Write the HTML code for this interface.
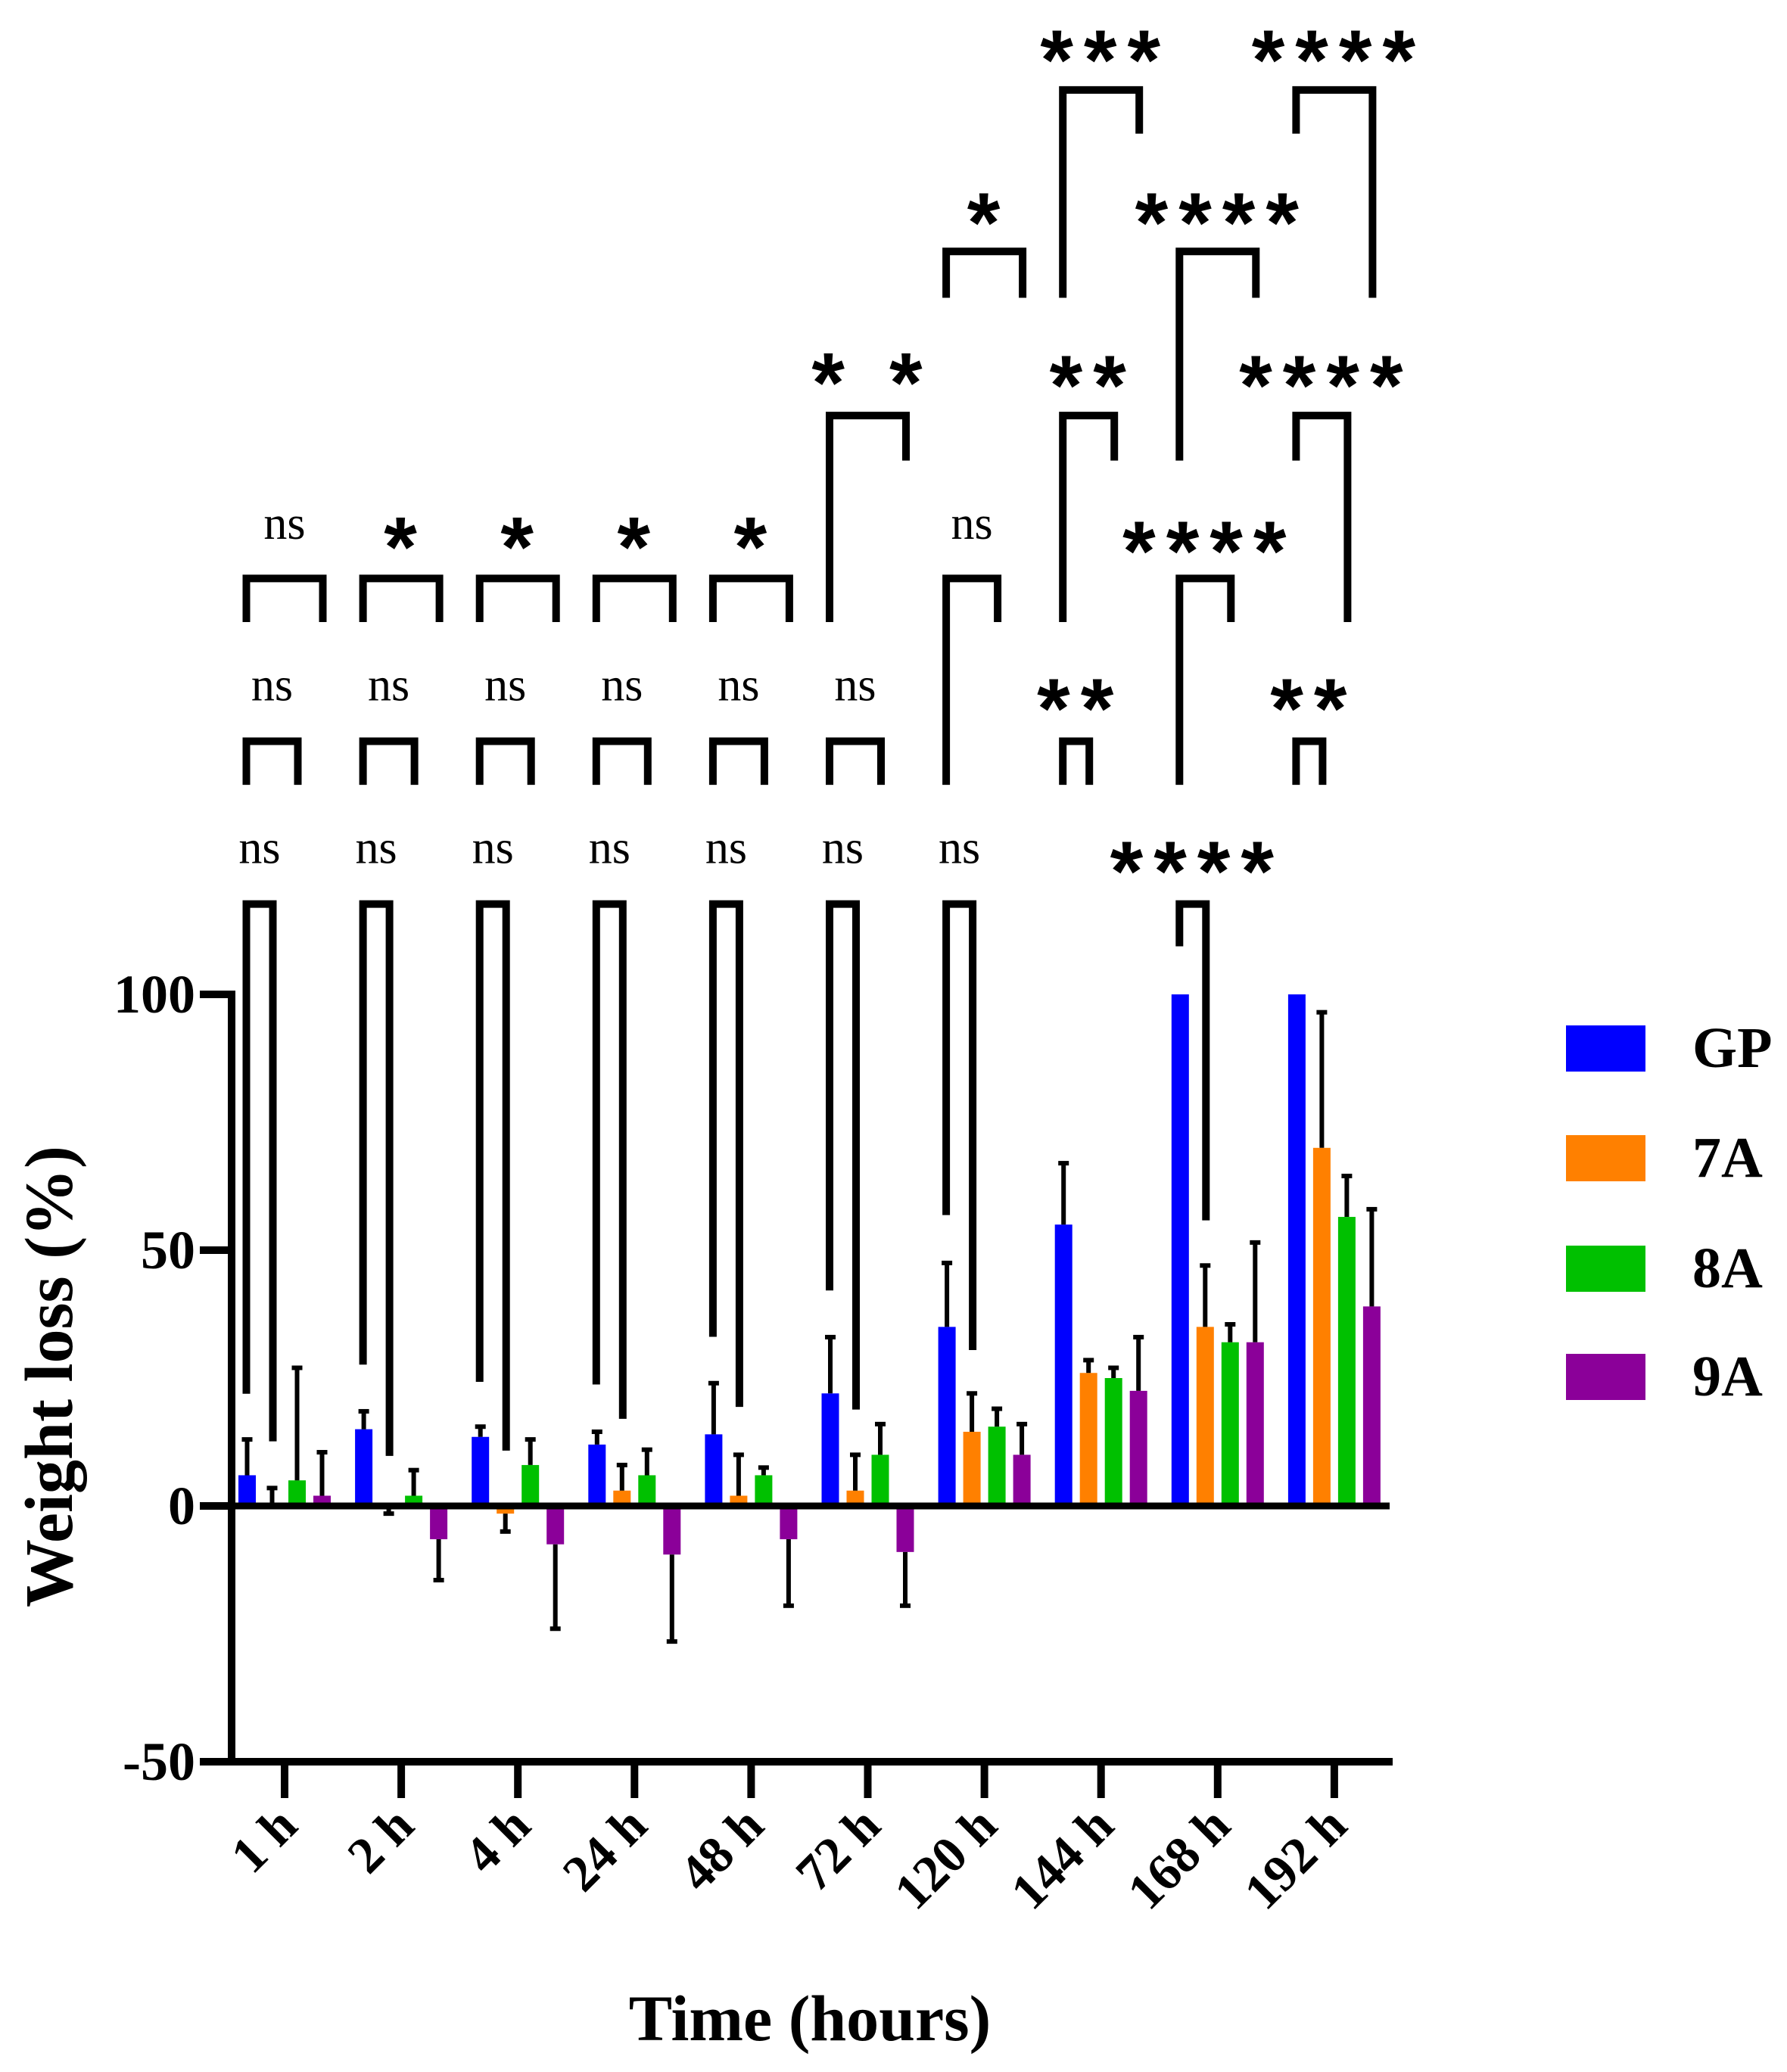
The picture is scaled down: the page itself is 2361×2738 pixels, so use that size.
<!DOCTYPE html>
<html><head><meta charset="utf-8"><style>
html,body{margin:0;padding:0;background:#fff;}
svg{display:block;}
text{font-family:"Liberation Serif",serif;}
</style></head><body>
<svg id="chart" width="2361" height="2738" viewBox="0 0 2361 2738" xmlns="http://www.w3.org/2000/svg"></svg>
<script>
const categories = ["1 h","2 h","4 h","24 h","48 h","72 h","120 h","144 h","168 h","192 h"];
const seriesNames = ["GP","7A","8A","9A"];
const gpValues = [6,15,13.5,12,14,22,35,55,100,100];
const a7Values = [0,-0.5,-1.5,3,2,3,14.5,26,35,70];
const a8Values = [5,2,8,6,6,10,15.5,25,32,56.5];
const a9Values = [2,-6.5,-7.5,-9.5,-6.5,-9,10,22.5,32,39];
const gpErr = [7,3.5,2,2.5,10,11,12.5,12,0,0];
const a7Err = [3.5,1,3.5,5,8,7,7.5,2.5,12,26.5];
const a8Err = [22,5,5,5,1.5,6,3.5,2,3.5,8];
const a9Err = [8.5,8,16.5,17,13,10.5,6,10.5,19.5,19];
const yTicks = [-50,0,50,100];
const yTickLabels = ["-50","0","50","100"];

const colors = ["#0000FF","#FF8000","#00C000","#8B0099"];
const values = [gpValues,a7Values,a8Values,a9Values];
const errs = [gpErr,a7Err,a8Err,a9Err];
const NS = "http://www.w3.org/2000/svg";
const svg = document.getElementById("chart");
const y0px = 1990, perUnit = 338/50;
function yScale(v){ return y0px - v*perUnit; }
function xTick(i){ return 376 + i*154.1; }
const offs = [-49.5,-16.5,16.5,49.5];
function xBar(i,s){ return xTick(i)+offs[s]; }
const S = 1.749;
function mk(tag, attrs){ const e=document.createElementNS(NS,tag); for(const k in attrs) e.setAttribute(k,attrs[k]); svg.appendChild(e); return e; }

for(let s=0;s<4;s++){
  for(let i=0;i<categories.length;i++){
    const v=values[s][i], cx=xBar(i,s);
    const yt=Math.min(yScale(v),y0px), h=Math.abs(yScale(v)-y0px);
    const r=mk("rect",{x:cx-11.5,y:yt,width:23,height:Math.max(h,0.01),fill:colors[s]});
    
    
    const e=errs[s][i];
    if(e>0){
      const dir = v>=0?1:-1;
      const ye=yScale(v+dir*e);
      const l=mk("line",{x1:cx,x2:cx,y1:yScale(v),y2:ye,stroke:"#000","stroke-width":6});
      
      
      const c=mk("line",{x1:cx-7,x2:cx+7,y1:ye,y2:ye,stroke:"#000","stroke-width":6});
      
      
    }
  }
}
const ax=mk("line",{x1:306,x2:306,y1:yScale(100)-5,y2:yScale(-50)+5,stroke:"#000","stroke-width":10});
 
const z=mk("line",{x1:306,x2:1836,y1:y0px,y2:y0px,stroke:"#000","stroke-width":9});
 
const bx=mk("line",{x1:301,x2:1840,y1:yScale(-50),y2:yScale(-50),stroke:"#000","stroke-width":10});
 
for(let k=0;k<yTicks.length;k++){
  const y=yScale(yTicks[k]);
  const t=mk("line",{x1:264,x2:306,y1:y,y2:y,stroke:"#000","stroke-width":10});
   
  const tx=mk("text",{x:258,y:y+24,"text-anchor":"end","font-size":72,"font-weight":"bold"});
  tx.textContent=yTickLabels[k];
   
}
for(let i=0;i<categories.length;i++){
  const x=xTick(i);
  const t=mk("line",{x1:x,x2:x,y1:yScale(-50),y2:yScale(-50)+48,stroke:"#000","stroke-width":10});
   
  const tx=mk("text",{x:x+20,y:yScale(-50)+88,"text-anchor":"end","font-size":68,"font-weight":"bold",transform:`rotate(-45 ${x+20} ${yScale(-50)+88})`});
  tx.textContent=categories[i];
   
}
const yt=mk("text",{x:0,y:0,"text-anchor":"middle","font-size":90,"font-weight":"bold",transform:"translate(95 1819) rotate(-90)"});
yt.textContent="Weight loss (%)";  
const xt=mk("text",{x:1070,y:2696,"text-anchor":"middle","font-size":86,"font-weight":"bold"});
xt.textContent="Time (hours)";  

const legY=[1355,1500,1646,1789];
for(let s=0;s<4;s++){
  const r=mk("rect",{x:2069,y:legY[s],width:105,height:61,fill:colors[s]});
   
  const t=mk("text",{x:2236,y:legY[s]+55,"font-size":76,"font-weight":"bold"});
  t.textContent=seriesNames[s];
   
}

const brackets = [
 [0,0,1,683,1053,1089,"ns",643],[1,0,1,683,1031,1100,"ns",643],[2,0,1,683,1044,1096,"ns",643],
 [3,0,1,683,1046,1072,"ns",643],[4,0,1,683,1010,1063,"ns",643],[5,0,1,683,975,1065,"ns",643],
 [6,0,1,683,918,1020,"ns",643],[8,0,1,683,715,922,"****",645],
 [0,0,2,560,593,593,"ns",520],[1,0,2,560,593,593,"ns",520],[2,0,2,560,593,593,"ns",520],
 [3,0,2,560,593,593,"ns",520],[4,0,2,560,593,593,"ns",520],[5,0,2,560,593,593,"ns",520],
 [7,0,1,560,593,593,"**",522],[9,0,1,560,593,593,"**",522],
 [0,0,3,437,470,470,"ns",398],[1,0,3,437,470,470,"*",400],[2,0,3,437,470,470,"*",400],
 [3,0,3,437,470,470,"*",400],[4,0,3,437,470,470,"*",400],
 [6,0,2,437,593,470,"ns",398],[8,0,2,437,593,470,"****",403],
 [5,0,3,314,470,348,"* *",276],[7,0,2,314,470,348,"**",278],[9,0,2,314,348,470,"****",278],
 [6,0,3,190,225,225,"*",155],[8,0,3,190,348,225,"****",155],
 [7,0,3,68,225,101,"***",32],[9,0,3,68,101,225,"****",32]
];
for(const b of brackets){
  const x1=xBar(b[0],b[1])-1, x2=xBar(b[0],b[2])+1;
  const top=b[3]*S, lb=b[4]*S, rb=b[5]*S;
  const p=mk("path",{d:`M${x1} ${lb} L${x1} ${top} L${x2} ${top} L${x2} ${rb}`,fill:"none",stroke:"#000","stroke-width":10,"stroke-linejoin":"miter"});
   
  const cx=(x1+x2)/2, cy=b[7]*S;
  let t;
  if(b[6]==="ns"){
    t=mk("text",{x:cx,y:cy+16,"text-anchor":"middle","font-size":62});
  } else {
    t=mk("text",{x:cx+6,y:cy+62,"text-anchor":"middle","font-size":112,"font-weight":"bold","letter-spacing":14,style:'font-family:"Liberation Sans",sans-serif'});
  }
  t.textContent=b[6];
   
}
</script>
</body></html>
